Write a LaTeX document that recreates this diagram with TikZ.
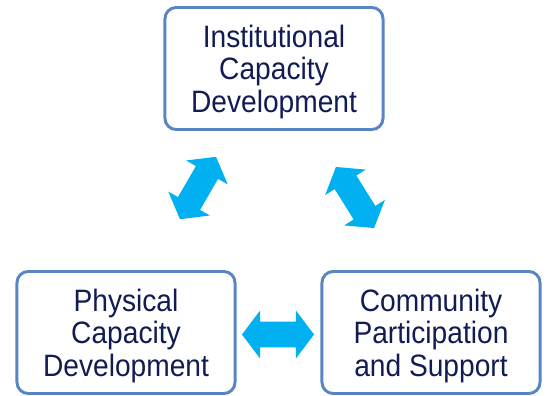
\documentclass[tikz,border=0pt]{standalone}
\usepackage{fontspec}
\setmainfont{Liberation Sans}[FakeStretch=0.91]
\usepackage{xcolor}
\usetikzlibrary{shapes.arrows, positioning}

\definecolor{boxline}{RGB}{88,134,196}
\definecolor{boxtext}{RGB}{18,28,84}
\definecolor{arrowblue}{RGB}{0,176,240}

\begin{document}
\begin{tikzpicture}[x=0.025cm, y=-0.025cm]
				\tikzset{box/.style={draw=boxline, line width=2.1pt, rounded corners=8pt, align=center, text=boxtext, font=\fontsize{22}{23.2}\selectfont, text depth=0pt, minimum width=5.45cm, minimum height=3.05cm, inner sep=0pt}}
				\tikzset{dblarrow/.style={double arrow, fill=arrowblue, draw=none, inner xsep=0pt, inner ysep=0.3125cm, minimum width=1.125cm, minimum height=1.8cm, double arrow head extend=0.28cm, double arrow tip angle=106}}
				
				\useasboundingbox (0,0) rectangle (548,396);

				\node (inst) [box] at (274, 68.5) {Institutional\\Capacity\\Development};
				\node (phys) [box] at (126, 332.5) {Physical\\Capacity\\Development};
				\node (comm) [box] at (431, 332.5) {Community\\Participation\\and Support};
		
				% double arrows between the three boxes
				\node (ip) [dblarrow, rotate=60] at (198, 188) {};
				\node (ic) [dblarrow, rotate=-58] at (355, 197.5) {};
				\node (pc) [dblarrow] at (278, 334.5) {};
			
			\end{tikzpicture}
\end{document}
